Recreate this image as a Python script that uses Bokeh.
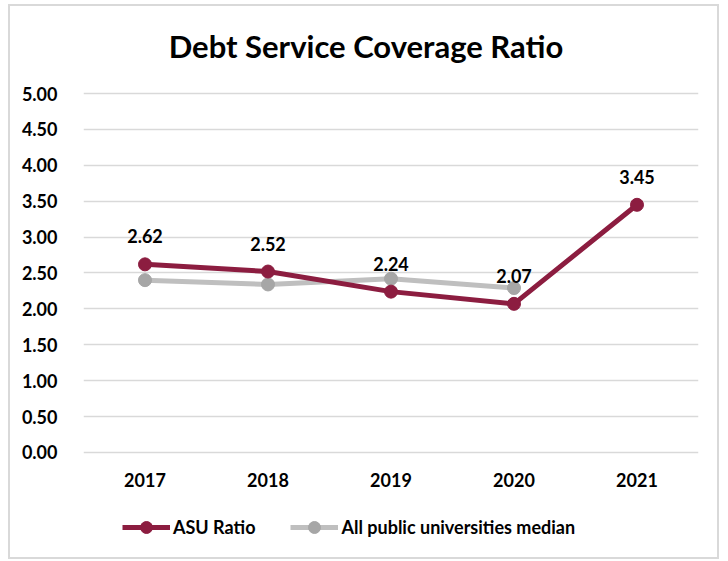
from bokeh.plotting import figure
from bokeh.models import ColumnDataSource, Range1d, LabelSet, Legend, LegendItem, NumeralTickFormatter, FixedTicker
from bokeh.core.properties import value
from bokeh.embed import file_html
from bokeh.resources import INLINE

title_text = "Debt Service Coverage Ratio"
years = ["2017", "2018", "2019", "2020", "2021"]
asu_ratio = [2.62, 2.52, 2.24, 2.07, 3.45]
median_years = ["2017", "2018", "2019", "2020"]
median_values = [2.40, 2.34, 2.42, 2.29]
y_ticks = [0, 0.5, 1.0, 1.5, 2.0, 2.5, 3.0, 3.5, 4.0, 4.5, 5.0]

RED = "#8C1D40"
GRAY_LINE = "#BFBFBF"
GRAY_MARK = "#A6A6A6"
FONT = "Lato"
FS = "18px"

# the frame covers the whole chart box; the value axis shows 0..5 only
p = figure(width=711, height=555, x_range=years, y_range=Range1d(-1.395, 6.213),
           output_backend="svg", toolbar_location=None, title_location=None,
           min_border_left=73, min_border_right=23, min_border_top=0, min_border_bottom=9)
p.margin = (4, 0, 0, 8)
p.styles = {"border": "2px solid #D9D9D9"}
p.outline_line_color = None

src_a = ColumnDataSource(dict(x=years, y=asu_ratio, lab=[f"{v:.2f}" for v in asu_ratio]))
src_m = ColumnDataSource(dict(x=median_years, y=median_values))
src_x = ColumnDataSource(dict(x=years, y=[0] * len(years), lab=years))
src_t = ColumnDataSource(dict(x=[years[2]], y=[y_ticks[-1]], lab=[title_text]))

gl = p.line("x", "y", source=src_m, line_color=GRAY_LINE, line_width=5)
gm = p.scatter("x", "y", source=src_m, size=13, fill_color=GRAY_MARK, line_color=GRAY_MARK)
rl = p.line("x", "y", source=src_a, line_color=RED, line_width=5)
rm = p.scatter("x", "y", source=src_a, size=13, fill_color=RED, line_color=RED)

# chart title, centred over the chart box
title = LabelSet(x="x", y="y", text="lab", source=src_t, y_offset=48, x_offset=-25,
                 text_align="center", text_baseline="middle",
                 text_font=value(FONT), text_font_size=value("31px"), text_font_style="bold",
                 text_color="#000000")
p.add_layout(title)

labels = LabelSet(x="x", y="y", text="lab", source=src_a, y_offset=28,
                  text_align="center", text_baseline="middle",
                  text_font=value(FONT), text_font_size=value(FS), text_font_style="bold",
                  text_color="#000000")
p.add_layout(labels)

# category axis labels placed under the 0.00 line
xlabels = LabelSet(x="x", y="y", text="lab", source=src_x, y_offset=-28,
                   text_align="center", text_baseline="middle",
                   text_font=value(FONT), text_font_size=value(FS), text_font_style="bold",
                   text_color="#000000")
p.add_layout(xlabels)
p.xaxis.visible = False

p.yaxis.ticker = FixedTicker(ticks=y_ticks)
p.yaxis.formatter = NumeralTickFormatter(format="0.00")
p.yaxis.axis_line_color = None
p.yaxis.major_tick_line_color = None
p.yaxis.minor_tick_line_color = None
p.yaxis.major_label_text_font = FONT
p.yaxis.major_label_text_font_size = FS
p.yaxis.major_label_text_font_style = "bold"
p.yaxis.major_label_text_color = "#000000"
p.yaxis.major_label_standoff = 20
p.xgrid.grid_line_color = None
p.ygrid.grid_line_color = "#D9D9D9"
p.ygrid.grid_line_width = 1.5

legend = Legend(items=[LegendItem(label="ASU Ratio", renderers=[rl, rm]),
                       LegendItem(label="All public universities median", renderers=[gl, gm])],
                orientation="horizontal", location=(39, 10),
                glyph_width=48, glyph_height=30, label_standoff=3, spacing=35,
                label_text_font=FONT, label_text_font_size=FS, label_text_font_style="bold",
                label_text_color="#000000", border_line_color=None, background_fill_alpha=0,
                padding=4, margin=0)
p.add_layout(legend, "center")

open("out.html", "w").write(file_html(p, INLINE))
